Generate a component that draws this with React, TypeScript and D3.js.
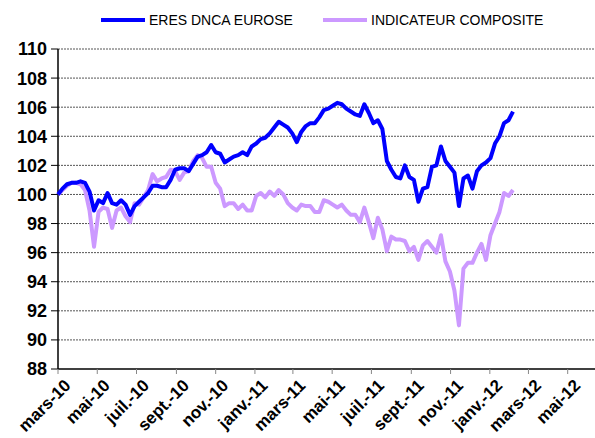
import * as d3 from "d3";

// weekly observations, first one on 1 March 2010
const startDate = new Date(2010, 2, 1);

const eresDnca = [
  100.0, 100.4, 100.7, 100.8, 100.8, 100.9, 100.8, 100.2, 98.9, 99.6,
  99.4, 100.1, 99.4, 99.3, 99.6, 99.3, 98.6, 99.2, 99.5, 99.8,
  100.1, 100.6, 100.6, 100.5, 100.5, 101.0, 101.7, 101.8, 101.8, 101.6,
  102.1, 102.6, 102.7, 102.9, 103.4, 102.9, 102.8, 102.2, 102.4, 102.6,
  102.7, 102.9, 102.7, 103.3, 103.5, 103.8, 103.9, 104.2, 104.6, 105.0,
  104.8, 104.6, 104.2, 103.6, 104.3, 104.7, 104.9, 104.9, 105.3, 105.8,
  105.9, 106.1, 106.3, 106.2, 105.9, 105.7, 105.5, 105.4, 106.2, 105.6,
  104.9, 105.1, 104.5, 102.3, 101.7, 101.2, 101.1, 102.0, 101.2, 101.0,
  99.5, 100.4, 100.5, 101.9, 102.0, 103.3, 102.3, 101.9, 101.5, 99.2,
  101.1, 101.3, 100.4, 101.6, 102.0, 102.2, 102.5, 103.5, 104.0, 104.9,
  105.1, 105.7,
];

const composite = [
  100.0, 100.3, 100.6, 100.8, 100.8, 100.7, 100.3, 98.9, 96.4, 98.8,
  99.1, 99.0, 97.7, 98.9, 99.1, 98.5, 98.1, 99.4, 99.3, 99.8,
  100.3, 101.4, 100.9, 101.1, 101.2, 101.7, 101.6, 101.0, 101.5, 101.6,
  102.3, 102.7, 102.5, 101.9, 101.9, 100.8, 100.4, 99.2, 99.4, 99.4,
  99.0, 99.3, 98.9, 98.9, 99.9, 100.1, 99.8, 100.2, 99.9, 100.3,
  100.0, 99.4, 99.1, 98.9, 99.3, 99.2, 99.2, 98.8, 98.8, 99.6,
  99.5, 99.3, 99.1, 99.3, 98.9, 98.6, 98.6, 98.1, 99.1, 98.1,
  97.0, 98.4, 97.6, 96.1, 97.1, 96.9, 96.9, 96.8, 96.1, 96.4,
  95.5, 96.5, 96.8, 96.4, 96.0, 97.2, 95.4, 94.7, 93.4, 91.0,
  94.9, 95.3, 95.3, 96.0, 96.6, 95.5, 97.2, 98.0, 98.8, 100.1,
  99.9, 100.3,
];

const seriesNames = ["ERES DNCA EUROSE", "INDICATEUR COMPOSITE"];
const seriesColors = ["#0000FF", "#CC99FF"];

const yTicks = [88, 90, 92, 94, 96, 98, 100, 102, 104, 106, 108, 110];

const frenchMonths = [
  "janv.", "févr.", "mars", "avr.", "mai", "juin",
  "juil.", "août", "sept.", "oct.", "nov.", "déc.",
];

const fr = d3.timeFormatLocale({
  dateTime: "%A %e %B %Y à %X",
  date: "%d/%m/%Y",
  time: "%H:%M:%S",
  periods: ["AM", "PM"],
  days: ["dimanche", "lundi", "mardi", "mercredi", "jeudi", "vendredi", "samedi"],
  shortDays: ["dim.", "lun.", "mar.", "mer.", "jeu.", "ven.", "sam."],
  months: frenchMonths,
  shortMonths: frenchMonths,
});
const fmtMonth = fr.format("%b-%y");

const W = 595;
const H = 438;
const font = "'Liberation Sans', Arial, sans-serif";

export default function App() {
  const x = d3
    .scaleTime()
    .domain([new Date(2010, 2, 1), new Date(2012, 4, 1)])
    .range([58, 567.7]);
  const y = d3.scaleLinear().domain([88, 110]).range([369, 49]);

  const xTicks = d3.timeMonth.range(new Date(2010, 2, 1), new Date(2012, 5, 1), 2);
  const plotRight = W;

  const rows = eresDnca.map((v, i) => ({
    date: d3.timeDay.offset(startDate, 7 * i),
    a: v,
    b: composite[i],
  }));

  const lineA = d3
    .line<{ date: Date; a: number; b: number }>()
    .x((d) => x(d.date))
    .y((d) => y(d.a));
  const lineB = d3
    .line<{ date: Date; a: number; b: number }>()
    .x((d) => x(d.date))
    .y((d) => y(d.b));

  const legendX = [101, 323];

  return (
    <div style={{ position: "absolute", left: 0, top: 0 }}>
      <svg width={W} height={H} style={{ display: "block", background: "#fff" }}>
        {/* grid */}
        {yTicks.slice(1).map((t) => (
          <line
            key={t}
            x1={58}
            x2={plotRight}
            y1={y(t)}
            y2={y(t)}
            stroke="#555"
            strokeWidth={1}
            strokeDasharray="2,1"
          />
        ))}

        {/* y axis */}
        <line x1={58} x2={58} y1={y(110)} y2={y(88)} stroke="#000" strokeWidth={1.5} />
        {yTicks.map((t) => (
          <g key={t}>
            <line x1={51} x2={58} y1={y(t)} y2={y(t)} stroke="#000" strokeWidth={1} />
            <text
              x={47}
              y={y(t)}
              dy="0.36em"
              textAnchor="end"
              fontFamily={font}
              fontWeight="bold"
              fontSize={18}
            >
              {t}
            </text>
          </g>
        ))}

        {/* x axis */}
        <line x1={58} x2={plotRight} y1={y(88)} y2={y(88)} stroke="#000" strokeWidth={1.5} />
        {xTicks.map((d) => (
          <g key={+d} transform={`translate(${x(d)},${y(88)})`}>
            <line y1={0} y2={5} stroke="#888" strokeWidth={1} />
            <text
              transform="translate(5,9) rotate(-45)"
              textAnchor="end"
              dy="0.72em"
              fontFamily={font}
              fontWeight="bold"
              fontSize={17}
            >
              {fmtMonth(d)}
            </text>
          </g>
        ))}

        {/* series */}
        <path d={lineB(rows) ?? ""} fill="none" stroke={seriesColors[1]} strokeWidth={4} strokeLinejoin="round" />
        <path d={lineA(rows) ?? ""} fill="none" stroke={seriesColors[0]} strokeWidth={4} strokeLinejoin="round" />

        {/* legend */}
        {seriesNames.map((name, i) => (
          <g key={name}>
            <line
              x1={legendX[i]}
              x2={legendX[i] + 44}
              y1={20}
              y2={20}
              stroke={seriesColors[i]}
              strokeWidth={4}
            />
            <text x={legendX[i] + 48} y={25} fontFamily={font} fontSize={14}>
              {name}
            </text>
          </g>
        ))}
      </svg>
    </div>
  );
}
